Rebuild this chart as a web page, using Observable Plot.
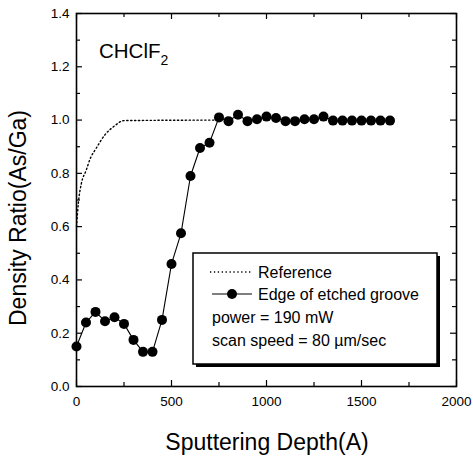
<!DOCTYPE html>
<html><head><meta charset="utf-8">
<script src="https://cdn.jsdelivr.net/npm/d3@7"></script>
<script src="https://cdn.jsdelivr.net/npm/@observablehq/plot@0.6"></script>
<style>
body{margin:0;background:#fff;}
svg{font-family:"Liberation Sans",Arial,sans-serif;}
</style></head>
<body><div id="chart"></div>
<script>
const grooveDepth = [0,50,100,150,200,250,300,350,400,450,500,550,600,650,700,750,800,850,900,950,1000,1050,1100,1150,1200,1250,1300,1350,1400,1450,1500,1550,1600,1650];
const grooveRatio = [0.15,0.24,0.28,0.245,0.26,0.235,0.175,0.13,0.13,0.25,0.46,0.575,0.79,0.895,0.915,1.01,0.996,1.02,0.996,1.003,1.013,1.008,0.996,0.996,1.003,1.003,1.013,0.998,0.998,0.998,0.998,0.998,0.998,0.998];
const refDepth = [0,10,25,50,75,100,150,200,250,750];
const refRatio = [0.6,0.69,0.76,0.81,0.86,0.89,0.945,0.978,0.998,1.0];
const xMajor = [0,500,1000,1500,2000];
const xMinor = [250,750,1250,1750];
const yMajor = [0,0.2,0.4,0.6,0.8,1.0,1.2,1.4];
const yMinor = [0.1,0.3,0.5,0.7,0.9,1.1,1.3];
const legendLabels = ["Reference","Edge of etched groove","power = 190 mW","scan speed = 80 \u00b5m/sec"];

const W=473,H=458,mL=76,mR=17,mT=13,mB=72;
const pw=W-mL-mR, ph=H-mT-mB;
const groove = grooveDepth.map((d,i)=>({x:d,y:grooveRatio[i]}));
const ref = refDepth.map((d,i)=>({x:d,y:refRatio[i]}));

const chart = Plot.plot({
  width:W,height:H,marginLeft:mL,marginRight:mR,marginTop:mT,marginBottom:mB,
  style:{fontFamily:"Liberation Sans, Arial, sans-serif",background:"#fff"},
  x:{domain:[0,2000]},
  y:{domain:[0,1.4]},
  marks:[
    Plot.axisX(xMajor,{tickSize:0,tickPadding:10,fontSize:13.5,label:null,tickFormat:d=>String(d),fill:"#000"}),
    Plot.axisY(yMajor,{tickSize:0,tickPadding:7,fontSize:13.5,label:null,tickFormat:d3.format(".1f"),fill:"#000"}),
    Plot.ruleX(xMajor,{x:d=>d,insetTop:ph-6,stroke:"#000",strokeWidth:1.2}),
    Plot.ruleX(xMinor,{x:d=>d,insetTop:ph-4,stroke:"#000",strokeWidth:1.2}),
    Plot.ruleX(xMajor,{x:d=>d,insetBottom:ph-6,stroke:"#000",strokeWidth:1.2}),
    Plot.ruleX(xMinor,{x:d=>d,insetBottom:ph-4,stroke:"#000",strokeWidth:1.2}),
    Plot.ruleY(yMajor,{y:d=>d,insetRight:pw-6,stroke:"#000",strokeWidth:1.2}),
    Plot.ruleY(yMinor,{y:d=>d,insetRight:pw-4,stroke:"#000",strokeWidth:1.2}),
    Plot.ruleY(yMajor,{y:d=>d,insetLeft:pw-6,stroke:"#000",strokeWidth:1.2}),
    Plot.ruleY(yMinor,{y:d=>d,insetLeft:pw-4,stroke:"#000",strokeWidth:1.2}),
    Plot.frame({stroke:"#000",strokeWidth:1.6}),
    Plot.line(ref,{x:"x",y:"y",stroke:"#000",strokeWidth:1.4,strokeDasharray:"1.3,2.6",curve:"monotone-x"}),
    Plot.line(groove,{x:"x",y:"y",stroke:"#000",strokeWidth:1.1}),
    Plot.dot(groove,{x:"x",y:"y",r:5,fill:"#000",stroke:"none"})
  ]
});
document.getElementById("chart").append(chart);

const svg = d3.select(chart);
svg.append("text").attr("x",267).attr("y",450).attr("text-anchor","middle")
  .attr("font-size",23).attr("fill","#000").text("Sputtering Depth(A)");
svg.append("text").attr("transform","translate(26,218) rotate(-90)").attr("text-anchor","middle")
  .attr("font-size",23).attr("fill","#000").text("Density Ratio(As/Ga)");
const t = svg.append("text").attr("x",99).attr("y",58).attr("font-size",20.5).attr("fill","#000").attr("text-anchor","start");
t.append("tspan").text("CHClF");
t.append("tspan").attr("font-size",14).attr("dy",7).text("2");

const lx=193,ly=253,lw=244,lh=111;
svg.append("rect").attr("x",lx+3).attr("y",ly+3).attr("width",lw).attr("height",lh).attr("fill","#000");
svg.append("rect").attr("x",lx).attr("y",ly).attr("width",lw).attr("height",lh).attr("fill","#fff").attr("stroke","#000").attr("stroke-width",1.5);
const g = svg.append("g").attr("font-size",16).attr("fill","#000").attr("text-anchor","start");
g.append("line").attr("x1",210).attr("x2",252).attr("y1",272).attr("y2",272).attr("stroke","#000").attr("stroke-width",1.4).attr("stroke-dasharray","1.3,2.6");
g.append("line").attr("x1",212).attr("x2",252).attr("y1",294).attr("y2",294).attr("stroke","#000").attr("stroke-width",1.1);
g.append("circle").attr("cx",232).attr("cy",294).attr("r",5).attr("fill","#000");
g.append("text").attr("x",258).attr("y",278).text(legendLabels[0]);
g.append("text").attr("x",258).attr("y",300).text(legendLabels[1]);
g.append("text").attr("x",212).attr("y",323).text(legendLabels[2]);
g.append("text").attr("x",212).attr("y",346).text(legendLabels[3]);
</script></body></html>
